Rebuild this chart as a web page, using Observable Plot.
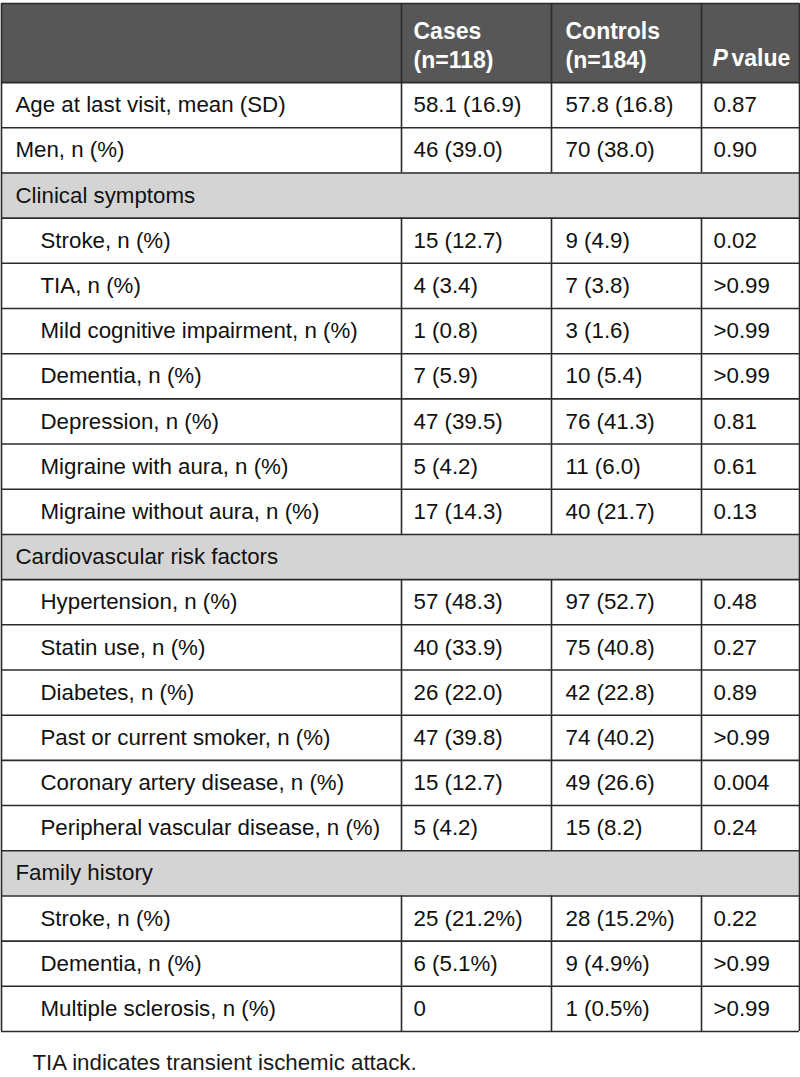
<!DOCTYPE html>
<html>
<head>
<meta charset="utf-8">
<script src="https://cdn.jsdelivr.net/npm/d3@7"></script>
<script src="https://cdn.jsdelivr.net/npm/@observablehq/plot@0.6"></script>
<style>
  html, body { margin: 0; padding: 0; background: #fff; }
  svg { display: block; }
</style>
</head>
<body>
<div id="chart"></div>
<script>
// ---- data ----
const headerLines = ["", "Cases\n(n=118)", "Controls\n(n=184)", ""];
const rowLabels = [
  "Age at last visit, mean (SD)", "Men, n (%)", "Clinical symptoms",
  "Stroke, n (%)", "TIA, n (%)", "Mild cognitive impairment, n (%)", "Dementia, n (%)",
  "Depression, n (%)", "Migraine with aura, n (%)", "Migraine without aura, n (%)",
  "Cardiovascular risk factors",
  "Hypertension, n (%)", "Statin use, n (%)", "Diabetes, n (%)", "Past or current smoker, n (%)",
  "Coronary artery disease, n (%)", "Peripheral vascular disease, n (%)",
  "Family history",
  "Stroke, n (%)", "Dementia, n (%)", "Multiple sclerosis, n (%)"
];
const rowKind = [
  "plain", "plain", "section",
  "item", "item", "item", "item", "item", "item", "item",
  "section",
  "item", "item", "item", "item", "item", "item",
  "section",
  "item", "item", "item"
];
const casesVals = [
  "58.1 (16.9)", "46 (39.0)", "",
  "15 (12.7)", "4 (3.4)", "1 (0.8)", "7 (5.9)", "47 (39.5)", "5 (4.2)", "17 (14.3)",
  "",
  "57 (48.3)", "40 (33.9)", "26 (22.0)", "47 (39.8)", "15 (12.7)", "5 (4.2)",
  "",
  "25 (21.2%)", "6 (5.1%)", "0"
];
const controlsVals = [
  "57.8 (16.8)", "70 (38.0)", "",
  "9 (4.9)", "7 (3.8)", "3 (1.6)", "10 (5.4)", "76 (41.3)", "11 (6.0)", "40 (21.7)",
  "",
  "97 (52.7)", "75 (40.8)", "42 (22.8)", "74 (40.2)", "49 (26.6)", "15 (8.2)",
  "",
  "28 (15.2%)", "9 (4.9%)", "1 (0.5%)"
];
const pVals = [
  "0.87", "0.90", "",
  "0.02", ">0.99", ">0.99", ">0.99", "0.81", "0.61", "0.13",
  "",
  "0.48", "0.27", "0.89", ">0.99", "0.004", "0.24",
  "",
  "0.22", ">0.99", ">0.99"
];
const caption = "TIA indicates transient ischemic attack.";

// ---- layout (in table units) ----
const colEdges = [1, 401, 551, 701, 799];
const textX = [15, 413, 565, 713];
const indentX = 40;
const captionX = 32;
const headerH = 1.75;
const nRows = rowLabels.length;
const FONT = "Liberation Sans, Arial, Helvetica, sans-serif";
const FS = 22.3;
const HFS = 23;
const LINE = "#2b2b2b";

const rows = rowLabels.map((label, i) => ({
  i, label, kind: rowKind[i],
  cases: casesVals[i], controls: controlsVals[i], p: pVals[i],
  y1: headerH + i, y2: headerH + i + 1, ym: headerH + i + 0.5
}));
const sections = rows.filter(d => d.kind === "section");
const dataRows = rows.filter(d => d.kind !== "section");

const hBounds = [0, ...rows.map(d => d.y1), headerH + nRows];
const vSegs = [];
for (const x of colEdges.slice(1, 4)) vSegs.push({x, y1: 0, y2: headerH});
for (const r of dataRows) for (const x of colEdges.slice(1, 4)) vSegs.push({x, y1: r.y1, y2: r.y2});
vSegs.push({x: colEdges[0], y1: 0, y2: headerH + nRows});
vSegs.push({x: colEdges[4], y1: 0, y2: headerH + nRows});

const header = [1, 2].map(c => ({x: textX[c], text: headerLines[c]}));

const plot = Plot.plot({
  width: 800,
  height: 1077,
  margin: 0,
  x: {type: "linear", domain: [0, 800], range: [0, 800], axis: null},
  y: {type: "linear", domain: [0, headerH + nRows], range: [3, 1031], axis: null},
  style: {fontFamily: FONT, background: "#fff"},
  marks: [
    Plot.rect([{}], {x1: colEdges[0], x2: colEdges[4], y1: 0, y2: headerH, fill: "#575757"}),
    Plot.rect(sections, {x1: colEdges[0], x2: colEdges[4], y1: "y1", y2: "y2", fill: "#d4d4d4"}),
    Plot.ruleY(hBounds, {x1: colEdges[0], x2: colEdges[4], stroke: LINE, strokeWidth: 1.6}),
    Plot.ruleX(vSegs, {x: "x", y1: "y1", y2: "y2", stroke: LINE, strokeWidth: 1.6}),
    // header
    Plot.text(header, {x: "x", y: headerH * 0.5 + 0.02, text: "text", textAnchor: "start",
      fill: "#fff", fontWeight: "bold", fontSize: HFS, lineHeight: 1.3}),
    Plot.text([{}], {x: textX[3] - 1, y: headerH * 0.5 + 0.35, text: () => "P", textAnchor: "start",
      fill: "#fff", fontWeight: "bold", fontStyle: "italic", fontSize: HFS}),
    Plot.text([{}], {x: textX[3] + 18, y: headerH * 0.5 + 0.35, text: () => "value", textAnchor: "start",
      fill: "#fff", fontWeight: "bold", fontSize: HFS}),
    // body
    Plot.text(rows, {x: d => d.kind === "item" ? indentX : textX[0], y: "ym", text: "label",
      textAnchor: "start", fill: "#111", fontSize: FS}),
    Plot.text(dataRows, {x: textX[1], y: "ym", text: "cases", textAnchor: "start", fill: "#111", fontSize: FS}),
    Plot.text(dataRows, {x: textX[2], y: "ym", text: "controls", textAnchor: "start", fill: "#111", fontSize: FS}),
    Plot.text(dataRows, {x: textX[3], y: "ym", text: "p", textAnchor: "start", fill: "#111", fontSize: FS}),
    // caption
    Plot.text([caption], {x: captionX, y: headerH + nRows + 0.7, text: d => d, textAnchor: "start",
      fill: "#1a1a1a", fontSize: FS})
  ]
});
document.getElementById("chart").appendChild(plot);
</script>
</body>
</html>
